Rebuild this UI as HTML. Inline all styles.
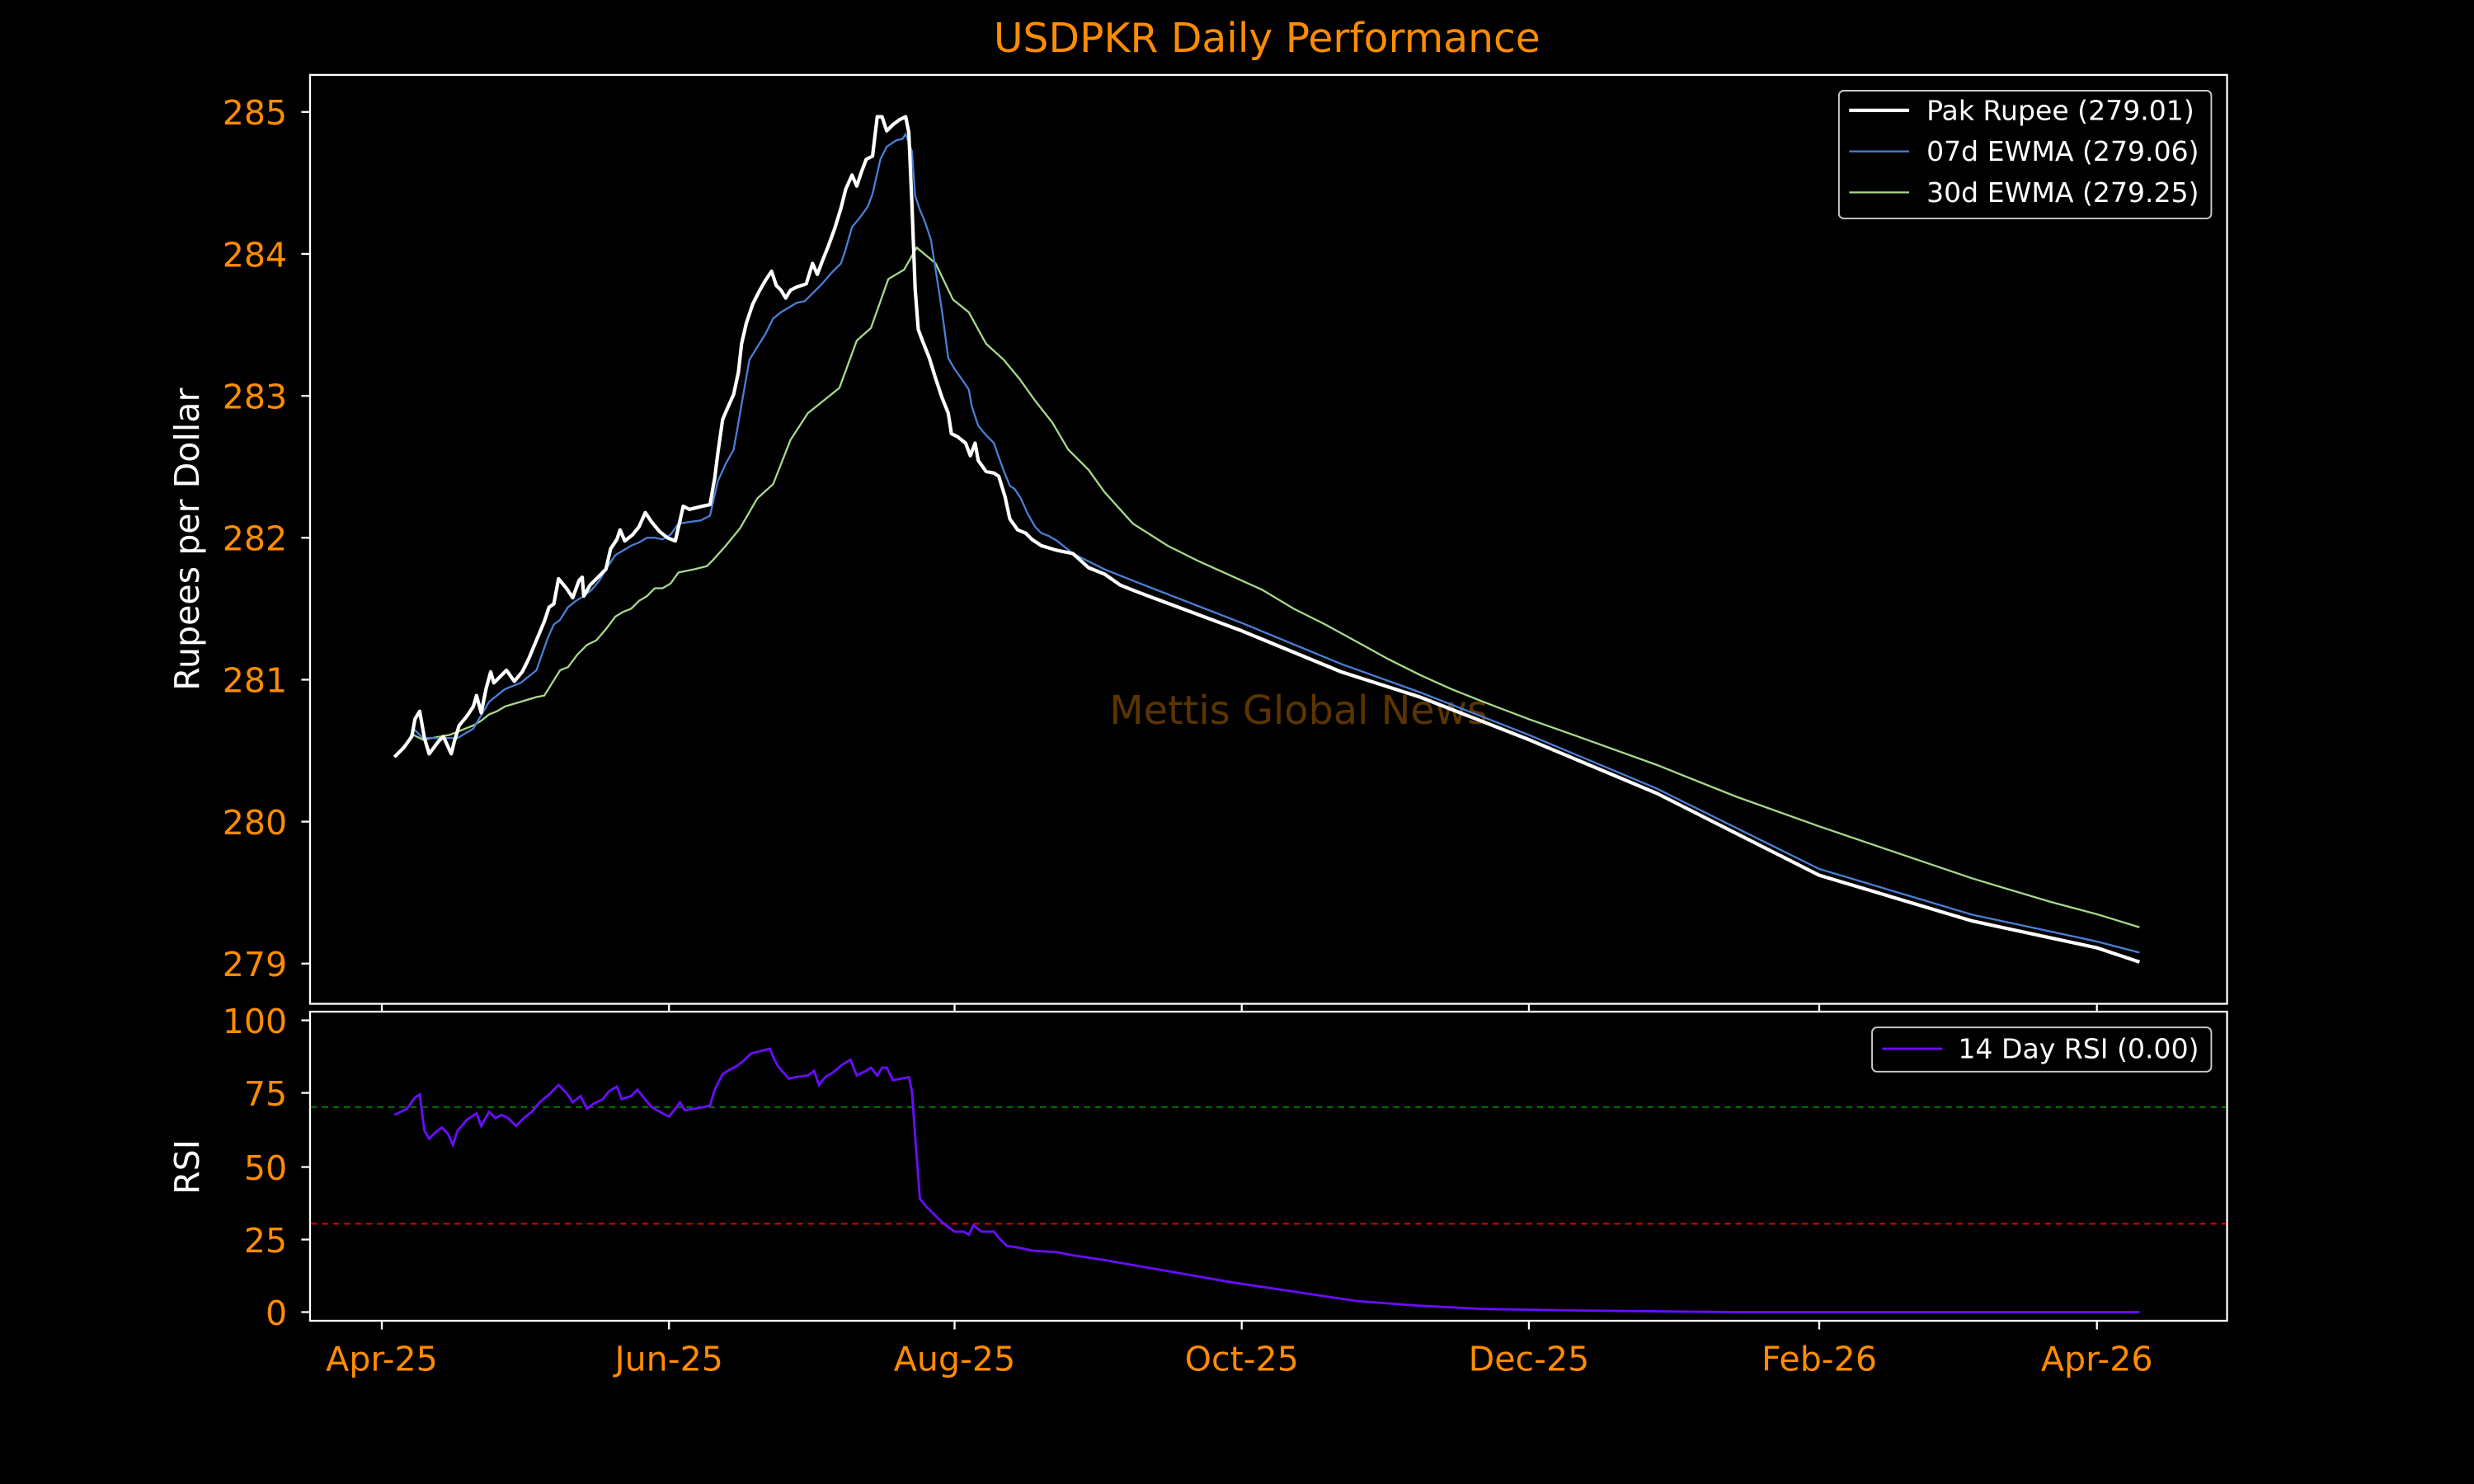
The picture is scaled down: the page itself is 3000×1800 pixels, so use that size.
<!DOCTYPE html>
<html><head><meta charset="utf-8"><style>html,body{margin:0;padding:0;background:#000;}svg{display:block;}</style></head>
<body>
<svg width="3000" height="1800" viewBox="0 0 1568 941" preserveAspectRatio="none" xmlns="http://www.w3.org/2000/svg" font-family="DejaVu Sans, Liberation Sans, sans-serif">
<rect width="1568" height="941" fill="#000"/>
<text x="803" y="33" fill="#ff8c00" font-size="25.5" text-anchor="middle">USDPKR Daily Performance</text>
<text x="823" y="459" fill="#5c3400" font-size="25" text-anchor="middle">Mettis Global News</text>
<rect x="196.5" y="47.5" width="1215" height="589" fill="none" stroke="#fff" stroke-width="1.2"/>
<rect x="196.5" y="641.5" width="1215" height="196" fill="none" stroke="#fff" stroke-width="1.2"/>
<g stroke="#fff" stroke-width="1.2">
<line x1="191" y1="71" x2="196" y2="71"/><line x1="191" y1="161" x2="196" y2="161"/><line x1="191" y1="251" x2="196" y2="251"/><line x1="191" y1="341" x2="196" y2="341"/><line x1="191" y1="431" x2="196" y2="431"/><line x1="191" y1="521" x2="196" y2="521"/><line x1="191" y1="611" x2="196" y2="611"/>
<line x1="191" y1="647" x2="196" y2="647"/><line x1="191" y1="693" x2="196" y2="693"/><line x1="191" y1="740" x2="196" y2="740"/><line x1="191" y1="786" x2="196" y2="786"/><line x1="191" y1="832" x2="196" y2="832"/>
<line x1="242" y1="637" x2="242" y2="642"/><line x1="424" y1="637" x2="424" y2="642"/><line x1="605" y1="637" x2="605" y2="642"/><line x1="787" y1="637" x2="787" y2="642"/><line x1="969" y1="637" x2="969" y2="642"/><line x1="1153" y1="637" x2="1153" y2="642"/><line x1="1329" y1="637" x2="1329" y2="642"/>
<line x1="242" y1="838" x2="242" y2="843"/><line x1="424" y1="838" x2="424" y2="843"/><line x1="605" y1="838" x2="605" y2="843"/><line x1="787" y1="838" x2="787" y2="843"/><line x1="969" y1="838" x2="969" y2="843"/><line x1="1153" y1="838" x2="1153" y2="843"/><line x1="1329" y1="838" x2="1329" y2="843"/>
</g>
<g fill="#ff8c00" font-size="21.5" text-anchor="end">
<text x="182" y="79">285</text><text x="182" y="169">284</text><text x="182" y="259">283</text><text x="182" y="349">282</text><text x="182" y="439">281</text><text x="182" y="529">280</text><text x="182" y="619">279</text>
<text x="182" y="655">100</text><text x="182" y="701">75</text><text x="182" y="748">50</text><text x="182" y="794">25</text><text x="182" y="840">0</text>
</g>
<g fill="#ff8c00" font-size="21.5" text-anchor="middle">
<text x="242" y="869">Apr-25</text><text x="424" y="869">Jun-25</text><text x="605" y="869">Aug-25</text><text x="787" y="869">Oct-25</text><text x="969" y="869">Dec-25</text><text x="1153" y="869">Feb-26</text><text x="1329" y="869">Apr-26</text>
</g>
<text transform="translate(126,342) rotate(-90)" fill="#fff" font-size="21.5" text-anchor="middle">Rupees per Dollar</text>
<text transform="translate(126,740) rotate(-90)" fill="#fff" font-size="21.5" text-anchor="middle">RSI</text>
<line x1="197" y1="702" x2="1411" y2="702" stroke="#008000" stroke-width="1" stroke-dasharray="4,3"/>
<line x1="197" y1="776" x2="1411" y2="776" stroke="#e00000" stroke-width="1" stroke-dasharray="4,3"/>
<polyline fill="none" stroke="#a6d98c" stroke-width="1.2" points="250,480 262,466 268,469 285,466 295,462 300,460 305,457 310,453 315,451 320,448 330,445 340,442 345,441 350,433 355,425 360,423 366,415 372,409 378,406 384,399 390,391 395,388 400,386 405,381 410,378 415,373 420,373 425,370 430,363 440,361 448,359 452,355 460,346 469,335 480,316 490,307 501,279 512,262 522,254 532,246 543,216 552,208 563,177 573,171 581,157 593,167 604,190 614,198 625,218 636,228 646,240 656,254 667,268 677,285 690,298 700,312 718,332 740,346 760,356 780,365 800,374 820,386 840,396 860,407 880,418 900,428 920,437 940,445 969,456 1000,467 1050,485 1100,505 1153,524 1200,540 1250,557 1300,572 1330,580 1356,588"/>
<polyline fill="none" stroke="#4a7fd6" stroke-width="1.2" points="250,480 259,470 262,462 268,468 280,468 290,468 300,462 310,445 320,437 330,433 340,425 347,405 351,396 355,393 360,385 365,381 370,378 375,374 380,368 384,361 390,352 395,349 400,346 405,344 410,341 415,341 420,342 425,339 430,332 437,331 444,330 450,327 452,318 455,305 460,294 465,285 468,268 472,245 475,228 480,220 485,212 490,202 495,198 500,195 505,192 510,191 515,186 521,180 527,173 533,167 536,158 540,144 545,138 550,131 553,123 558,101 562,93 568,89 572,88 574,85 578,96 580,124 583,133 586,140 590,152 593,171 597,197 601,227 605,234 610,241 614,247 616,258 620,270 625,276 630,281 632,287 636,298 640,308 643,310 647,316 651,325 656,334 660,338 665,340 670,343 680,351 690,356 700,361 720,369 787,395 850,421 900,439 969,466 1050,500 1153,551 1250,580 1329,597 1356,604"/>
<polyline fill="none" stroke="#fff" stroke-width="2.2" stroke-linejoin="round" points="250,480 256,474 261,467 263,456 266,451 269,468 272,478 278,470 281,467 286,478 288,470 291,460 296,454 300,448 302,441 305,452 308,437 311,426 313,433 318,428 321,425 326,432 331,426 335,418 340,406 345,394 348,385 351,383 354,367 359,373 363,379 367,368 369,366 370,378 374,371 379,366 384,361 387,348 391,342 393,336 396,343 401,339 405,334 409,325 413,331 418,337 423,341 428,343 431,330 433,321 437,323 445,321 450,320 453,303 455,287 458,266 461,259 465,250 468,236 470,218 473,205 477,193 481,185 485,178 489,172 492,181 495,184 498,189 501,184 505,182 511,180 515,167 518,174 521,166 525,156 529,145 533,132 536,120 540,111 543,118 546,109 549,101 553,99 556,74 559,74 562,83 566,79 570,76 574,74 576,84 578,130 580,183 582,209 585,217 589,227 593,240 597,252 601,262 603,275 607,277 612,281 615,289 618,281 620,292 625,299 630,300 633,302 637,315 640,329 645,336 650,338 654,342 660,346 670,349 680,351 690,360 700,364 710,371 720,375 787,400 850,426 900,442 969,469 1050,503 1153,555 1250,584 1329,601 1356,610"/>
<polyline fill="none" stroke="#6a0dff" stroke-width="1.5" points="250,707 258,703 263,696 266,694 269,717 272,722 276,718 280,715 284,719 287,726 290,717 296,710 302,706 305,714 310,705 314,709 318,707 322,709 327,714 332,709 337,705 342,699 348,694 354,688 359,693 363,699 368,695 372,703 376,700 382,697 386,692 391,689 394,697 400,695 404,691 408,696 413,702 420,706 424,708 428,703 431,699 434,704 440,703 446,702 450,701 453,691 458,681 463,678 467,676 472,672 476,668 480,667 488,665 490,670 493,676 500,684 504,683 512,682 516,679 519,688 523,683 528,680 534,675 539,672 543,682 549,679 552,677 556,682 559,677 562,677 566,685 571,684 576,683 578,692 580,720 583,760 587,765 592,770 597,775 601,778 605,781 611,781 614,783 617,777 622,781 630,781 634,786 638,790 645,791 654,793 670,794 680,796 700,799 740,806 780,813 820,819 860,825 900,828 940,830 1000,831 1100,832 1356,832"/>
<rect x="1165.5" y="57.5" width="236" height="81" rx="3" fill="#000" stroke="#ccc" stroke-width="1"/>
<line x1="1172" y1="70" x2="1210" y2="70" stroke="#fff" stroke-width="2.2"/>
<line x1="1172" y1="96" x2="1210" y2="96" stroke="#4a7fd6" stroke-width="1.2"/>
<line x1="1172" y1="122" x2="1210" y2="122" stroke="#a6d98c" stroke-width="1.2"/>
<g fill="#fff" font-size="17.3">
<text x="1221" y="76">Pak Rupee (279.01)</text>
<text x="1221" y="102">07d EWMA (279.06)</text>
<text x="1221" y="128">30d EWMA (279.25)</text>
</g>
<rect x="1186.5" y="651.5" width="215" height="28" rx="3" fill="#000" stroke="#ccc" stroke-width="1"/>
<line x1="1193" y1="665" x2="1231" y2="665" stroke="#6a0dff" stroke-width="1.5"/>
<text x="1241" y="671" fill="#fff" font-size="17.3">14 Day RSI (0.00)</text>
</svg>
</body></html>
